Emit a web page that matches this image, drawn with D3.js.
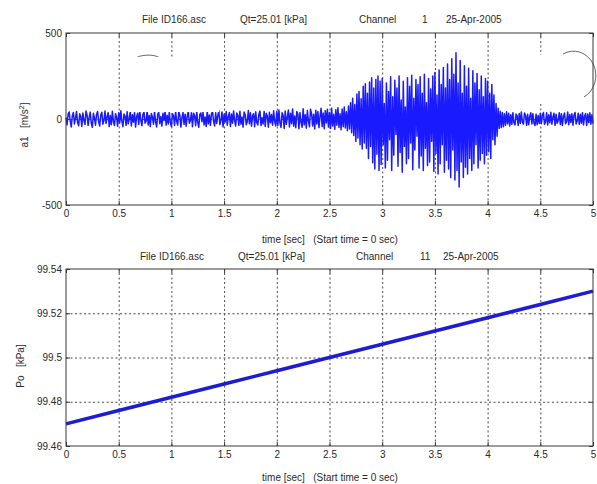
<!DOCTYPE html>
<html>
<head>
<meta charset="utf-8">
<script src="https://cdn.jsdelivr.net/npm/d3@7/dist/d3.min.js"></script>
<style>
  html, body { margin: 0; padding: 0; background: #fff; }
  svg { display: block; }
  text { font-family: "Liberation Sans", Arial, sans-serif; fill: #2a2a2a; }
</style>
</head>
<body>
<svg id="chart" width="597" height="484"></svg>
<script>
// ---- data ----
const xTicks = [0, 0.5, 1, 1.5, 2, 2.5, 3, 3.5, 4, 4.5, 5];
const xTickLabels = ["0", "0.5", "1", "1.5", "2", "2.5", "3", "3.5", "4", "4.5", "5"];

// channel 1 : acceleration a1 [m/s^2], sampled every 0.01 s from t = 0
const accelDt = 0.01;
const accelValues = [
  // 0.00 - 0.49
  8,-34,27,41,-12,-46,19,38,-29,5,44,-21,-39,30,16,-43,35,-8,-31,47,22,-37,11,40,-25,-48,33,6,-36,28,43,-17,-41,24,39,-30,-9,46,-26,14,37,-44,20,-33,45,-15,-38,31,9,-42,
  // 0.50 - 0.99
  36,-23,48,-11,-45,29,17,-37,42,-28,3,44,-40,25,-19,38,-47,13,34,-32,46,-6,-39,27,41,-24,-14,49,-35,21,-43,32,10,-30,45,-18,-46,26,39,-27,15,-41,33,-9,47,-36,22,-29,40,-20,
  // 1.00 - 1.49
  -44,31,18,-38,45,-13,-35,42,24,-47,7,39,-31,28,-42,16,46,-25,-10,37,-45,33,20,-39,43,-21,-48,26,35,-16,40,-34,12,-43,47,-28,23,-37,30,44,-12,-40,36,-26,19,48,-33,-7,41,-46,
  // 1.50 - 1.99
  27,-18,43,-36,14,38,-44,29,-24,47,-9,-41,35,22,-37,45,-30,11,-47,40,25,-33,-14,49,-27,36,-42,18,31,-45,42,-20,-35,28,46,-38,8,-29,44,-43,33,17,-48,39,-22,26,-36,48,-15,-40,
  // 2.00 - 2.49
  45,-38,52,-24,-49,36,21,-55,47,-31,9,53,-46,33,-27,58,-42,18,-51,44,29,-57,38,-20,-48,60,-35,25,-53,49,-12,-45,56,31,-40,27,-58,51,-29,43,-50,14,62,-44,35,-56,48,-23,57,-47,
  // 2.50 - 2.99
  38,-55,63,-41,27,-60,54,-36,66,-49,31,-62,58,-45,70,-52,42,-68,75,-58,95,-80,120,-96,84,-130,145,-110,160,-150,118,-175,190,-140,205,-170,150,-230,215,-160,240,-255,180,-290,230,-205,250,-300,220,-265,
  // 3.00 - 3.49
  235,-150,90,-285,210,-240,160,-120,245,-300,130,-210,225,-90,180,-275,250,-195,110,-310,220,-160,70,-260,240,-230,190,-140,255,-295,120,-180,230,-100,200,-285,245,-215,150,-300,260,-170,95,-270,235,-250,175,-130,250,-305,
  // 3.50 - 3.99
  270,-200,140,-320,285,-260,200,-150,300,-310,180,-240,320,-290,230,-340,350,-180,260,-355,385,-300,210,-395,340,-250,150,-340,310,-280,190,-320,295,-230,120,-300,280,-260,210,-150,265,-285,170,-240,250,-200,130,-260,235,-210,
  // 4.00 - 4.49
  220,-190,150,-230,200,-120,140,-150,90,-100,62,-55,45,-50,38,-45,30,-36,42,-28,33,-40,25,-31,37,-22,-34,29,18,-38,32,-26,40,-19,-30,35,22,-37,27,-33,15,36,-29,31,-24,-38,28,-33,20,-26,
  // 4.50 - 5.00
  34,-27,20,38,-31,-16,36,-35,24,-22,39,-30,12,33,-37,28,-25,-9,37,-32,30,-38,18,35,-28,-14,40,-33,26,-20,31,-36,22,38,-29,-12,34,-31,27,-24,37,-34,16,32,-38,29,-21,36,-30,25,-27
];
const accelYTicks = [-500, 0, 500];
const accelYTickLabels = ["-500", "0", "500"];

// channel 11 : pressure Po [kPa]
const pressTimes = [0, 0.5, 1, 1.5, 2, 2.5, 3, 3.5, 4, 4.5, 5];
const pressValues = [99.470, 99.476, 99.482, 99.488, 99.494, 99.500, 99.506, 99.512, 99.518, 99.524, 99.530];
const pressYTicks = [99.46, 99.48, 99.50, 99.52, 99.54];
const pressYTickLabels = ["99.46", "99.48", "99.5", "99.52", "99.54"];

const titleTop = ["File ID166.asc", "Qt=25.01 [kPa]", "Channel", "1", "25-Apr-2005"];
const titleBottom = ["File ID166.asc", "Qt=25.01 [kPa]", "Channel", "11", "25-Apr-2005"];
const xLabel = "time [sec]   (Start time = 0 sec)";

// ---- layout ----
const svg = d3.select("#chart");
const left = 66, right = 593;
const panels = [
  { top: 33, bottom: 205 },
  { top: 269, bottom: 446 }
];

const x = d3.scaleLinear().domain([0, 5]).range([left, right]);

function drawPanel(p, y, hGridTicks) {
  const g = svg.append("g");
  const h = p.bottom - p.top;

  // dotted grid
  const gridX = g.append("g").attr("transform", `translate(0,${p.bottom})`)
    .call(d3.axisBottom(x).tickValues(xTicks.slice(1, -1)).tickSize(-h).tickFormat(""));
  const gridY = g.append("g").attr("transform", `translate(${left},0)`)
    .call(d3.axisLeft(y).tickValues(hGridTicks).tickSize(-(right - left)).tickFormat(""));
  [gridX, gridY].forEach(gg => {
    gg.select(".domain").remove();
    gg.selectAll("line").attr("stroke", "#4a4a4a").attr("stroke-width", 1).attr("stroke-dasharray", "2,2.5");
  });
  return g;
}

function drawFrame(g, p, y, yTicks, yTickLabels) {
  const h = p.bottom - p.top;
  g.append("rect").attr("x", left).attr("y", p.top).attr("width", right - left).attr("height", h)
    .attr("fill", "none").attr("stroke", "#383838").attr("stroke-width", 1);

  const ax = g.append("g").attr("transform", `translate(0,${p.bottom})`)
    .call(d3.axisBottom(x).tickValues(xTicks).tickSizeInner(-4).tickSizeOuter(0).tickPadding(5)
      .tickFormat((d, i) => xTickLabels[i]));
  const axTop = g.append("g").attr("transform", `translate(0,${p.top})`)
    .call(d3.axisTop(x).tickValues(xTicks).tickSizeInner(-4).tickSizeOuter(0).tickFormat(""));
  const ay = g.append("g").attr("transform", `translate(${left},0)`)
    .call(d3.axisLeft(y).tickValues(yTicks).tickSizeInner(-4).tickSizeOuter(0).tickPadding(4)
      .tickFormat((d, i) => yTickLabels[i]));
  const ayR = g.append("g").attr("transform", `translate(${right},0)`)
    .call(d3.axisRight(y).tickValues(yTicks).tickSizeInner(-4).tickSizeOuter(0).tickFormat(""));
  [ax, axTop, ay, ayR].forEach(a => {
    a.select(".domain").remove();
    a.selectAll("line").attr("stroke", "#383838");
    a.selectAll("text").attr("font-size", 10).attr("fill", "#2a2a2a")
      .attr("font-family", "'Liberation Sans', Arial, sans-serif");
  });
}

function drawTitle(parts, xs, yBase) {
  const t = svg.append("text").attr("y", yBase).attr("font-size", 10);
  parts.forEach((s, i) => t.append("tspan").attr("x", xs[i]).text(s));
}

// ---- top panel: acceleration ----
const yA = d3.scaleLinear().domain([-500, 500]).range([panels[0].bottom, panels[0].top]);
const gA = drawPanel(panels[0], yA, [0]);

const accelLine = d3.line()
  .x((d, i) => x(i * accelDt))
  .y(d => yA(d));
gA.append("path").datum(accelValues)
  .attr("d", accelLine)
  .attr("fill", "none")
  .attr("stroke", "#1a1aff")
  .attr("stroke-width", 1.5)
  .attr("stroke-linejoin", "round");

// annotation marks partly covered by blank boxes
gA.append("path").attr("d", "M135,59 A14,6 0 0,1 160,58")
  .attr("fill", "none").attr("stroke", "#666").attr("stroke-width", 1);
gA.append("path").attr("d", "M563,54 A22,24 0 0,1 584,97")
  .attr("fill", "none").attr("stroke", "#666").attr("stroke-width", 1);
gA.append("rect").attr("x", 129).attr("y", 57).attr("width", 90).attr("height", 55).attr("fill", "#fff");
gA.append("rect").attr("x", 499).attr("y", 55).attr("width", 84).attr("height", 48).attr("fill", "#fff");

drawFrame(gA, panels[0], yA, accelYTicks, accelYTickLabels);
drawTitle(titleTop, [142, 240, 359, 422, 446], 23);

svg.append("text").attr("x", 330).attr("y", 243).attr("text-anchor", "middle")
  .attr("font-size", 10).style("white-space", "pre").text(xLabel);

const yLabA = svg.append("text").attr("transform", "translate(28,125) rotate(-90)")
  .attr("text-anchor", "middle").attr("font-size", 10).style("white-space", "pre");
yLabA.append("tspan").text("a1   [m/s");
yLabA.append("tspan").attr("font-size", 7).attr("dy", -4).text("2");
yLabA.append("tspan").attr("dy", 4).text("]");

// ---- bottom panel: pressure ----
const yP = d3.scaleLinear().domain([99.46, 99.54]).range([panels[1].bottom, panels[1].top]);
const gP = drawPanel(panels[1], yP, [99.48, 99.50, 99.52]);

const pressLine = d3.line()
  .x((d, i) => x(pressTimes[i]))
  .y(d => yP(d));
gP.append("path").datum(pressValues)
  .attr("d", pressLine)
  .attr("fill", "none")
  .attr("stroke", "#1c1cd2")
  .attr("stroke-width", 3.6);

drawFrame(gP, panels[1], yP, pressYTicks, pressYTickLabels);
drawTitle(titleBottom, [140, 238, 356, 420, 443], 260);

svg.append("text").attr("x", 330).attr("y", 481).attr("text-anchor", "middle")
  .attr("font-size", 10).style("white-space", "pre").text(xLabel);

svg.append("text").attr("transform", "translate(24,366) rotate(-90)")
  .attr("text-anchor", "middle").attr("font-size", 10).style("white-space", "pre")
  .text("Po   [kPa]");
</script>
</body>
</html>
